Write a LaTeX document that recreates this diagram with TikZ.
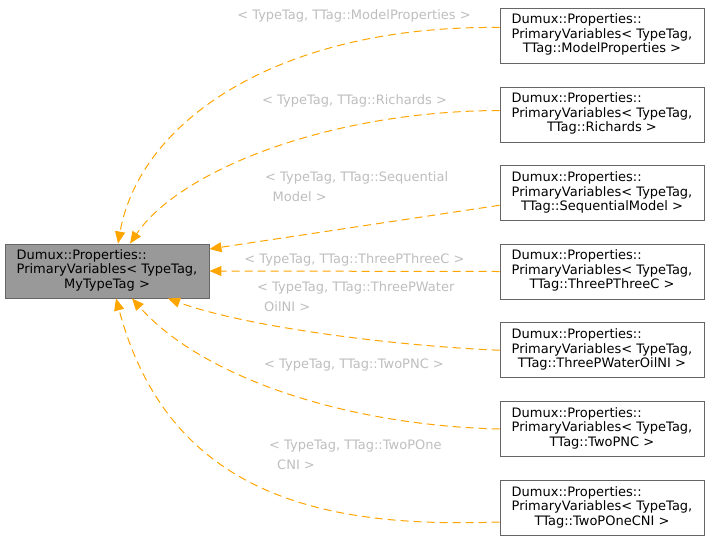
\documentclass[tikz,border=0pt]{standalone}
\usepackage{fontspec}
\setmainfont{DejaVu Sans}
\usetikzlibrary{arrows.meta,calc}
\definecolor{edgeorange}{HTML}{FFA500}
\definecolor{boxborder}{HTML}{666666}
\definecolor{mainfill}{HTML}{999999}
\definecolor{labelgrey}{HTML}{BEBEBE}
\tikzset{
  classbox/.style={draw=boxborder, line width=0.9pt, rectangle, inner sep=0pt,
    minimum width=204pt, minimum height=55pt,
    font=\fontsize{13}{14.5}\selectfont},
  mainbox/.style={classbox, fill=mainfill, minimum height=54pt},
  edgelabel/.style={text=labelgrey, inner sep=0pt,
    font=\fontsize{13}{20}\selectfont},
  deriv/.style={draw=edgeorange, line width=1pt, dash pattern=on 8pt off 5pt,
    -{Triangle[length=12pt,width=10pt,fill=edgeorange]}},
}
\newcommand{\classtext}[1]{\begin{tabular}{@{}l@{}}Dumux::Properties::\\PrimaryVariables< TypeTag,\\\multicolumn{1}{@{}c@{}}{#1}\end{tabular}}
\begin{document}
\begin{tikzpicture}[x=1pt,y=-1pt]
\useasboundingbox (0,0) rectangle (709,541);
\node[mainbox] (main) at (107,271) {\classtext{MyTypeTag >}};
\node[classbox] (b1) at (602,35.5) {\classtext{TTag::ModelProperties >}};
\node[classbox] (b2) at (602,114.5) {\classtext{TTag::Richards >}};
\node[classbox] (b3) at (602,193.25) {\classtext{TTag::SequentialModel >}};
\node[classbox] (b4) at (602,271.5) {\classtext{TTag::ThreePThreeC >}};
\node[classbox] (b5) at (602,350.25) {\classtext{TTag::ThreePWaterOilNI >}};
\node[classbox] (b6) at (602,429) {\classtext{TTag::TwoPNC >}};
\node[classbox] (b7) at (602,508) {\classtext{TTag::TwoPOneCNI >}};

\draw[deriv] ($(b1.west)+(0,-8)$) .. controls (280,25) and (140,120) .. ($(main.north)+(11,0)$);
\draw[deriv] ($(b2.west)+(0,-4)$) .. controls (330,111) and (180,170) .. ($(main.north)+(23,0)$);
\draw[deriv] ($(b3.west)+(0,12)$) -- ($(main.east)+(0,-22)$);
\draw[deriv] (b4.west) -- (main.east);
\draw[deriv] (b5.west) .. controls (380,345) and (240,325) .. ($(main.south)+(61,0)$);
\draw[deriv] (b6.west) .. controls (340,425) and (200,375) .. ($(main.south)+(25,0)$);
\draw[deriv] ($(b7.west)+(0,14)$) .. controls (330,528) and (170,500) .. ($(main.south)+(9,0)$);

\node[edgelabel] (l1) at (354,16) {< TypeTag, TTag::ModelProperties >};
\node[edgelabel] (l2) at (354.5,101) {< TypeTag, TTag::Richards >};
\node[edgelabel, anchor=west, align=left] (l3) at (265,186.5) {< TypeTag, TTag::Sequential\\\hspace*{7.5pt}Model >};
\node[edgelabel] (l4) at (354.5,260) {< TypeTag, TTag::ThreePThreeC >};
\node[edgelabel, anchor=west, align=left] (l5) at (257,297) {< TypeTag, TTag::ThreePWater\\\hspace*{7pt}OilNI >};
\node[edgelabel] (l6) at (354,365) {< TypeTag, TTag::TwoPNC >};
\node[edgelabel, anchor=west, align=left] (l7) at (269,455) {< TypeTag, TTag::TwoPOne\\\hspace*{8pt}CNI >};
\end{tikzpicture}
\end{document}
